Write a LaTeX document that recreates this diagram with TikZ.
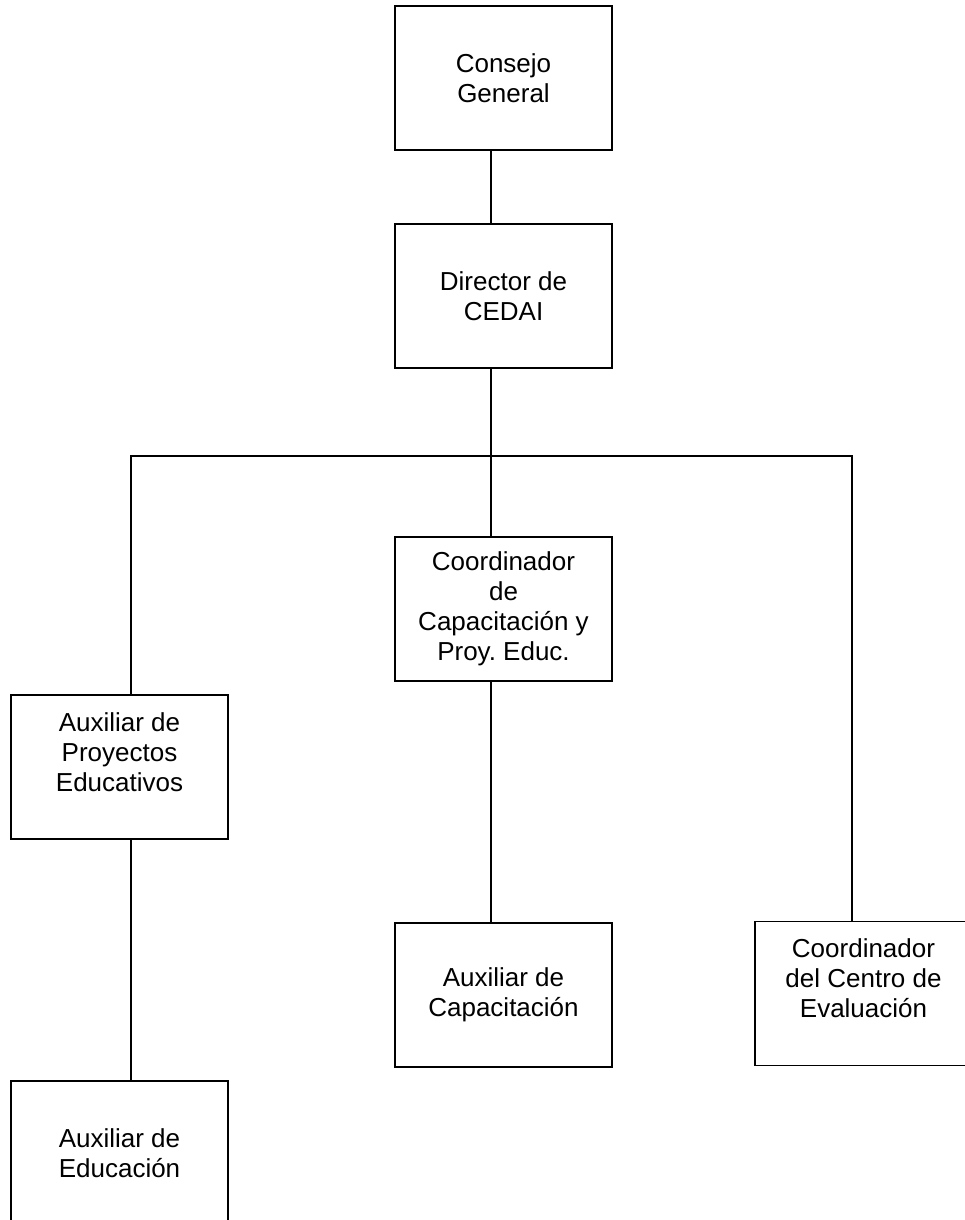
\documentclass[tikz,border=0pt]{standalone}
\usepackage{fontspec}
\setmainfont{Liberation Sans}
\usetikzlibrary{positioning}
\frenchspacing

\begin{document}
\begin{tikzpicture}[
  x=0.75pt, y=-0.75pt,
  font=\fontsize{19.5}{22.5}\selectfont,
  puesto/.style={draw=black, line width=1.1pt, minimum width=162.75pt, minimum height=108pt, inner sep=0pt, outer sep=0pt, align=center},
  enlace/.style={draw=black, line width=1pt}
]
\useasboundingbox (0,0) rectangle (964,1220);
% ---------- top of the chart ----------
\node[puesto] (consejo) at (503.5,78) {Consejo\\General};
\node[puesto, below=55.5pt of consejo] (director) {Director de\\CEDAI};
% ---------- second level ----------
\coordinate (busL) at (131,456);
\coordinate (busM) at (491,456);
\coordinate (busR) at (852,456);
\node[puesto, below=126.75pt of director] (coordcap) {Coordinador\\de\\Capacitación y\\Proy.\ Educ.};
\node[puesto] (auxproy) at (119.5,767) {Auxiliar de\\Proyectos\\Educativos\\\mbox{}};
\node[puesto] (coordeval) at (863.5,993.5) {Coordinador\\del Centro de\\Evaluación\\\mbox{}};
% ---------- third level ----------
\node[puesto, below=181.5pt of coordcap] (auxcap) {Auxiliar de\\Capacitación};
\node[puesto, below=181.5pt of auxproy] (auxeduc) {Auxiliar de\\Educación};
% ---------- connectors ----------
\draw[enlace] (consejo.south -| busM) -- (director.north -| busM);
\draw[enlace] (director.south -| busM) -- (coordcap.north -| busM);
\draw[enlace] (auxproy.north -| busL) -- (busL) -- (busR) -- (coordeval.north -| busR);
\draw[enlace] (coordcap.south -| busM) -- (auxcap.north -| busM);
\draw[enlace] (auxproy.south -| busL) -- (auxeduc.north -| busL);
\end{tikzpicture}
\end{document}
